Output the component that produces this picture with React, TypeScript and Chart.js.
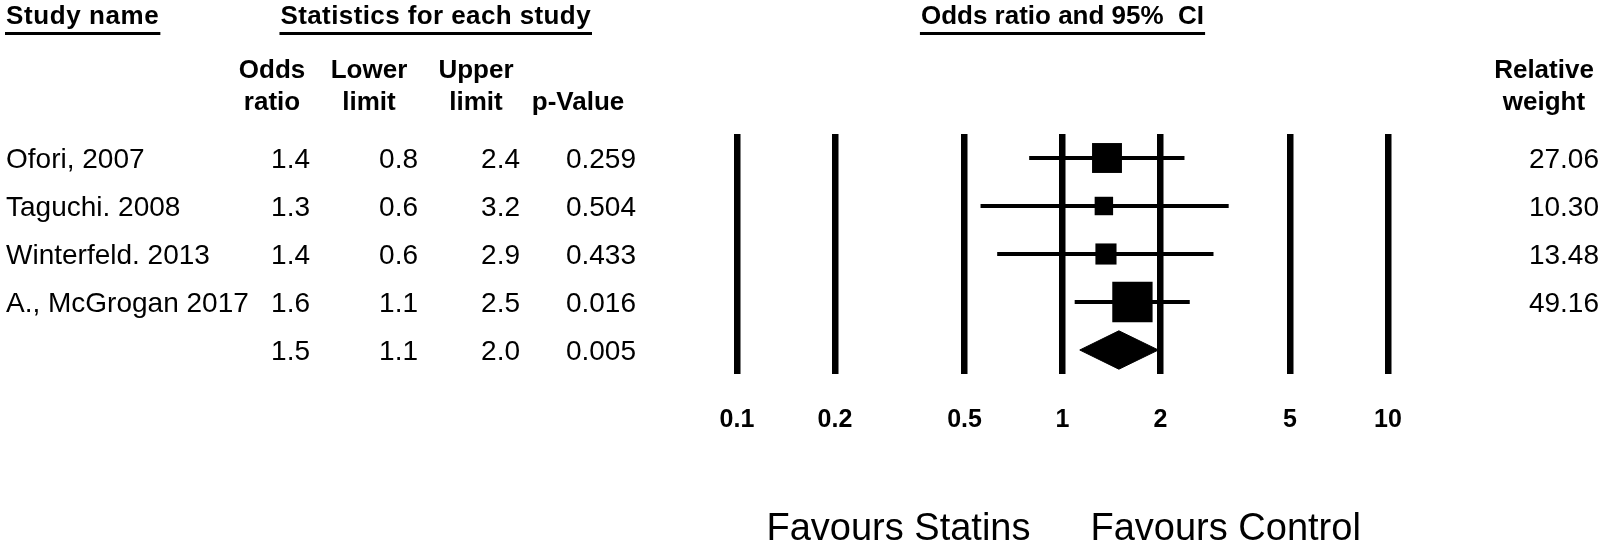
import React, { useEffect, useRef } from 'react';
import { Chart, registerables } from 'chart.js';

Chart.register(...registerables);

// ---- data ----
const studyNames = ['Ofori, 2007', 'Taguchi. 2008', 'Winterfeld. 2013', 'A., McGrogan 2017'];
const oddsRatios = [1.37, 1.34, 1.36, 1.64];
const lowerLimits = [0.79, 0.56, 0.63, 1.09];
const upperLimits = [2.37, 3.24, 2.91, 2.46];
const pValues = [0.259, 0.504, 0.433, 0.016];
const relativeWeights = [27.06, 10.3, 13.48, 49.16];
const summaryOR = 1.49;
const summaryLower = 1.13;
const summaryUpper = 1.97;
const summaryP = 0.005;
const axisTicks = [0.1, 0.2, 0.5, 1, 2, 5, 10];
const favoursLeft = 'Favours Statins';
const favoursRight = 'Favours Control';

const FONT = '"Liberation Sans", Arial, Helvetica, sans-serif';
const SUMMARY_ROW = studyNames.length;

const textPlugin = {
  id: 'forestText',
  afterDraw(chart: any) {
    const ctx = chart.ctx as CanvasRenderingContext2D;
    const xs = chart.scales.x;
    const ys = chart.scales.y;
    ctx.save();
    ctx.fillStyle = '#000';
    ctx.strokeStyle = '#000';

    const put = (s: string, x: number, y: number, align: CanvasTextAlign, font: string) => {
      ctx.font = font;
      ctx.textAlign = align;
      ctx.textBaseline = 'alphabetic';
      ctx.fillText(s, x, y);
    };
    const bold = `bold 26px ${FONT}`;
    const reg = `28px ${FONT}`;

    const underlined = (s: string, x: number, align: CanvasTextAlign, spacing = 0) => {
      (ctx as any).letterSpacing = `${spacing}px`;
      put(s, x, 24, align, bold);
      const w = ctx.measureText(s).width;
      (ctx as any).letterSpacing = '0px';
      const left = align === 'center' ? x - w / 2 : align === 'right' ? x - w : x;
      ctx.fillRect(left - 1, 32, w + 2, 3);
    };
    const x1 = xs.getPixelForValue(1);
    underlined('Study name', 6, 'left', 0.6);
    underlined('Statistics for each study', 591, 'right', 0.4);
    underlined('Odds ratio and 95%  CI', x1, 'center');

    // column headers
    put('Odds', 272, 78, 'center', bold);
    put('ratio', 272, 110, 'center', bold);
    put('Lower', 369, 78, 'center', bold);
    put('limit', 369, 110, 'center', bold);
    put('Upper', 476, 78, 'center', bold);
    put('limit', 476, 110, 'center', bold);
    put('p-Value', 578, 110, 'center', bold);
    put('Relative', 1544, 78, 'center', bold);
    put('weight', 1544, 110, 'center', bold);

    const row = (i: number, name: string, or: number, lo: number, hi: number, p: number, w: number | null) => {
      const yb = ys.getPixelForValue(i) + 10;
      if (name) put(name, 6, yb, 'left', reg);
      put(or.toFixed(1), 310, yb, 'right', reg);
      put(lo.toFixed(1), 418, yb, 'right', reg);
      put(hi.toFixed(1), 520, yb, 'right', reg);
      put(p.toFixed(3), 636, yb, 'right', reg);
      if (w !== null) put(w.toFixed(2), 1599, yb, 'right', reg);
    };
    studyNames.forEach((n, i) =>
      row(i, n, oddsRatios[i], lowerLimits[i], upperLimits[i], pValues[i], relativeWeights[i])
    );
    row(SUMMARY_ROW, '', summaryOR, summaryLower, summaryUpper, summaryP, null);

    put(favoursLeft, x1 - 32, 540, 'right', `38px ${FONT}`);
    put(favoursRight, x1 + 28, 540, 'left', `38px ${FONT}`);
    ctx.restore();
  },
};

export default function App() {
  const ref = useRef<HTMLCanvasElement | null>(null);
  useEffect(() => {
    if (!ref.current) return;
    const DIAMOND_HALF = 0.4;
    const ciSets = studyNames.map((_, i) => ({
      type: 'line' as const,
      data: [
        { x: lowerLimits[i], y: i },
        { x: upperLimits[i], y: i },
      ],
      borderColor: '#000',
      borderWidth: 4,
      borderCapStyle: 'butt' as const,
      pointRadius: 0,
      pointHoverRadius: 0,
      tension: 0,
      fill: false,
      clip: false,
      order: 2,
    }));
    const chart = new Chart(ref.current, {
      type: 'scatter',
      data: {
        datasets: [
          {
            type: 'scatter',
            data: oddsRatios.map((v, i) => ({ x: v, y: i })),
            pointStyle: 'rect',
            pointRadius: relativeWeights.map((w) => (5.75 * Math.sqrt(w)) / Math.SQRT2),
            pointHoverRadius: relativeWeights.map((w) => (5.75 * Math.sqrt(w)) / Math.SQRT2),
            pointBackgroundColor: '#000',
            pointBorderColor: '#000',
            pointBorderWidth: 0,
            clip: false,
            order: 0,
          } as any,
          ...ciSets,
          {
            type: 'line',
            data: [
              { x: summaryLower, y: SUMMARY_ROW },
              { x: summaryOR, y: SUMMARY_ROW - DIAMOND_HALF },
              { x: summaryUpper, y: SUMMARY_ROW },
              { x: summaryOR, y: SUMMARY_ROW + DIAMOND_HALF },
              { x: summaryLower, y: SUMMARY_ROW },
            ],
            borderColor: '#000',
            backgroundColor: '#000',
            borderWidth: 1,
            pointRadius: 0,
            pointHoverRadius: 0,
            tension: 0,
            fill: 'shape',
            clip: false,
            order: 1,
          } as any,
        ],
      },
      options: {
        animation: false,
        responsive: false,
        events: [],
        layout: { padding: { left: 737, right: 218, top: 134, bottom: 108 } },
        plugins: { legend: { display: false }, tooltip: { enabled: false } },
        scales: {
          x: {
            type: 'logarithmic',
            min: 0.1,
            max: 10,
            position: 'bottom',
            afterBuildTicks: (s: any) => {
              s.ticks = axisTicks.map((v) => ({ value: v }));
            },
            afterFit: (s: any) => {
              s.height = 60;
            },
            grid: { color: '#000', lineWidth: 6.5, drawTicks: false },
            border: { display: false },
            ticks: {
              autoSkip: false,
              maxRotation: 0,
              padding: 31,
              color: '#000',
              font: { family: FONT, size: 25, weight: 'bold' },
              callback: (v: any) => String(v),
            },
          },
          y: { type: 'linear', min: -0.5, max: 4.5, reverse: true, display: false },
        },
      } as any,
      plugins: [textPlugin],
    });
    return () => chart.destroy();
  }, []);
  return (
    <div style={{ position: 'absolute', left: 0, top: 0, width: 1606, height: 542, background: '#fff' }}>
      <canvas ref={ref} width={1606} height={542} style={{ display: 'block' }} />
    </div>
  );
}
